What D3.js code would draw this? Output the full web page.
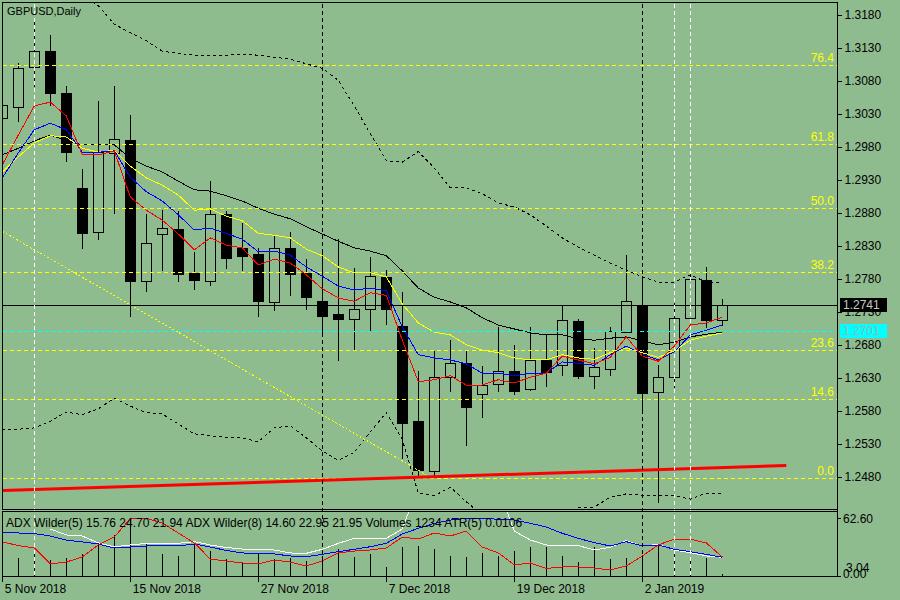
<!DOCTYPE html>
<html>
<head>
<meta charset="utf-8">
<script src="https://cdn.jsdelivr.net/npm/d3@7"></script>
<style>
  body { margin: 0; background: #8fbc8f; }
  text { font-family: "Liberation Sans", Arial, sans-serif; }
</style>
</head>
<body>
<svg id="chart"></svg>
<script>
// ---- data ----
const dates = ["2018-11-05","2018-11-06","2018-11-07","2018-11-08","2018-11-09","2018-11-12","2018-11-13","2018-11-14","2018-11-15","2018-11-16",
  "2018-11-19","2018-11-20","2018-11-21","2018-11-22","2018-11-23","2018-11-26","2018-11-27","2018-11-28","2018-11-29","2018-11-30",
  "2018-12-03","2018-12-04","2018-12-05","2018-12-06","2018-12-07","2018-12-10","2018-12-11","2018-12-12","2018-12-13","2018-12-14",
  "2018-12-17","2018-12-18","2018-12-19","2018-12-20","2018-12-21","2018-12-24","2018-12-26","2018-12-27","2018-12-28","2018-12-31",
  "2019-01-02","2019-01-03","2019-01-04","2019-01-07","2019-01-08","2019-01-09"];

const open  = [1.3024,1.3041,1.3101,1.3125,1.3061,1.2917,1.2851,1.2971,1.2990,1.2776,1.2848,1.2856,1.2789,1.2777,1.2878,1.2827,1.2818,1.2745,1.2826,1.2789,
  1.2746,1.2727,1.2719,1.2734,1.2783,1.2708,1.2564,1.2488,1.2631,1.2652,1.2605,1.2620,1.2640,1.2613,1.2657,1.2649,1.2716,1.2633,1.2644,1.2699,
  1.2739,1.2608,1.2631,1.2721,1.2778,1.2718];
const high  = [1.3051,1.3107,1.3175,1.3150,1.3072,1.2946,1.3049,1.3072,1.3029,1.2878,1.2884,1.2883,1.2821,1.2928,1.2883,1.2865,1.2826,1.2846,1.2851,1.2810,
  1.2825,1.2840,1.2797,1.2813,1.2794,1.2760,1.2640,1.2671,1.2687,1.2670,1.2648,1.2707,1.2680,1.2707,1.2697,1.2739,1.2719,1.2675,1.2707,1.2816,
  1.2783,1.2649,1.2744,1.2787,1.2798,1.2749];
const low   = [1.3019,1.3020,1.3072,1.3044,1.2958,1.2826,1.2840,1.2880,1.2724,1.2762,1.2793,1.2776,1.2764,1.2770,1.2797,1.2794,1.2724,1.2733,1.2755,1.2735,
  1.2700,1.2657,1.2672,1.2701,1.2711,1.2508,1.2480,1.2481,1.2610,1.2528,1.2571,1.2610,1.2606,1.2611,1.2618,1.2634,1.2630,1.2615,1.2634,1.2699,
  1.2577,1.2441,1.2616,1.2721,1.2707,1.2710];
const close = [1.3044,1.3099,1.3126,1.3062,1.2973,1.2850,1.2973,1.2992,1.2776,1.2835,1.2857,1.2788,1.2778,1.2879,1.2812,1.2815,1.2747,1.2826,1.2788,1.2753,
  1.2724,1.2719,1.2735,1.2785,1.2734,1.2562,1.2490,1.2631,1.2653,1.2585,1.2619,1.2640,1.2610,1.2657,1.2638,1.2718,1.2633,1.2646,1.2701,1.2746,
  1.2607,1.2631,1.2720,1.2779,1.2718,1.2741];

// moving averages
const maRed    = [1.2953,1.2998,1.3042,1.3048,1.3027,1.2968,1.2968,1.2974,1.2904,1.2884,1.2869,1.2848,1.2824,1.2842,1.2831,1.2827,1.2801,1.2810,1.2804,1.2786,
  1.2765,1.2751,1.2746,1.2759,1.2755,1.2687,1.2624,1.2627,1.2633,1.2619,1.2619,1.2627,1.2622,1.2631,1.2637,1.2663,1.2657,1.2651,1.2661,1.2692,
  1.2663,1.2655,1.2678,1.2710,1.2713,1.2722];
const maBlue   = [1.2933,1.2971,1.3006,1.3016,1.3006,1.2972,1.2972,1.2974,1.2934,1.2912,1.2898,1.2877,1.2854,1.2857,1.2849,1.2840,1.2821,1.2822,1.2816,1.2798,
  1.2784,1.2769,1.2763,1.2766,1.2762,1.2707,1.2665,1.2660,1.2657,1.2651,1.2637,1.2637,1.2633,1.2637,1.2637,1.2654,1.2652,1.2649,1.2665,1.2678,
  1.2666,1.2657,1.2669,1.2695,1.2702,1.2710];
const maYellow = [1.2942,1.2965,1.2986,1.2997,1.2995,1.2978,1.2972,1.2975,1.2951,1.2933,1.2922,1.2907,1.2884,1.2886,1.2875,1.2868,1.2849,1.2846,1.2842,1.2825,
  1.2815,1.2798,1.2789,1.2789,1.2783,1.2742,1.2713,1.2699,1.2695,1.2680,1.2672,1.2668,1.2660,1.2657,1.2657,1.2665,1.2660,1.2658,1.2668,1.2675,
  1.2668,1.2661,1.2671,1.2687,1.2693,1.2698];
const maBlack  = [1.2968,1.2978,1.2989,1.2998,1.2990,1.2983,1.2983,1.2983,1.2963,1.2951,1.2942,1.2928,1.2915,1.2913,1.2906,1.2898,1.2887,1.2878,1.2871,1.2859,
  1.2848,1.2837,1.2827,1.2822,1.2815,1.2792,1.2766,1.2752,1.2745,1.2736,1.2721,1.2710,1.2704,1.2698,1.2695,1.2695,1.2689,1.2687,1.2690,1.2692,
  1.2686,1.2680,1.2684,1.2692,1.2696,1.2699];
const bandUpper = [1.3248,1.3241,1.3233,1.3226,1.3218,1.3210,1.3194,1.3166,1.3153,1.3141,1.3125,1.3122,1.3119,1.3119,1.3119,1.3121,1.3119,1.3116,1.3113,1.3106,
  1.3099,1.3081,1.3042,1.3000,1.2959,1.2957,1.2973,1.2948,1.2918,1.2918,1.2909,1.2895,1.2889,1.2877,1.2860,1.2842,1.2828,1.2816,1.2804,1.2793,
  1.2783,1.2775,1.2775,1.2786,1.2775,1.2775];
const bandLower = [1.2552,1.2552,1.2554,1.2564,1.2578,1.2574,1.2583,1.2599,1.2587,1.2577,1.2575,1.2560,1.2545,1.2542,1.2540,1.2539,1.2533,1.2554,1.2557,1.2539,
  1.2519,1.2505,1.2517,1.2548,1.2577,1.2536,1.2455,1.2451,1.2464,1.2442,1.2422,1.2407,1.2399,1.2399,1.2407,1.2417,1.2433,1.2434,1.2449,1.2454,
  1.2452,1.2452,1.2451,1.2446,1.2455,1.2454];

// indicator window
const volumes = [12050,10830,15620,9610,10790,13240,19180,24630,34820,19750,13220,12010,19830,14970,10240,8410,13180,10230,10760,9040,
  12020,16190,11420,13210,5380,17430,18040,16170,12030,11380,13820,12060,15010,17380,17420,12040,8380,17360,10220,10790,
  12010,18610,13780,9040,10810,1234];
const adxWhite = [null,null,null,50.9,44.4,43.3,35.7,31.6,33.5,35.3,35.3,35.3,37.1,33.5,30.8,29.1,28.8,28.0,24.8,24.4,
  28.8,35.3,40.8,40.8,40.8,50.9,98.0,99.0,99.0,98.0,97.0,96.0,48.7,38.9,33.5,32.9,32.9,28.0,31.0,38.2,
  32.4,34.2,28.0,25.1,21.5,20.1];
const adxBlue  = [46.6,46.6,46.0,43.3,38.9,36.8,34.6,30.2,31.3,32.4,32.4,32.4,34.6,31.3,27.5,24.8,24.4,23.7,21.5,20.7,
  23.3,26.2,28.8,31.6,35.3,45.5,51.7,57.1,60.7,62.4,62.6,61.5,60.7,57.1,53.1,46.2,40.8,36.0,32.4,37.1,
  32.4,33.5,28.8,26.2,23.3,20.1];
const adxRed   = [36.8,32.9,30.2,12.8,14.9,20.4,33.5,42.2,62.2,62.6,57.5,46.6,35.7,18.2,16.0,13.9,12.8,17.1,14.9,10.6,
  16.0,24.8,26.9,28.0,30.2,42.2,40.0,46.6,43.3,48.7,31.3,24.8,11.7,13.9,7.9,9.5,9.5,8.4,6.2,10.6,
  21.5,33.5,40.0,40.0,35.7,20.4];

// chart objects
const fibLevels = [0, 14.6, 23.6, 38.2, 50.0, 61.8, 76.4];
const fibLow = 1.24785, fibHigh = 1.32965;
const yellowTrend = [[0, 1.2852], [26.5, 1.2483]];
const redTrend = [[0, 1.2459], [49, 1.2497]];
const markedDates = ["2018-11-07", "2019-01-04", "2019-01-07"];
const bidPrice = 1.2741;
const levelPrice = 1.2701;

const priceTicks = [1.3180,1.3130,1.3080,1.3030,1.2980,1.2930,1.2880,1.2830,1.2780,1.2730,1.2680,1.2630,1.2580,1.2530,1.2480];
const dateTicks = ["2018-11-05","2018-11-15","2018-11-27","2018-12-07","2018-12-19","2019-01-02"];
const indTicks = [62.60, 3.04, 0.00];
const titleText = "GBPUSD,Daily";
const indText = "ADX Wilder(5) 15.76 24.70 21.94 ADX Wilder(8) 14.60 22.95 21.95 Volumes 1234 ATR(5) 0.0106";

// ---- layout ----
const W = 900, H = 600;
const BG = "#8fbc8f";
const L = 3, R = 837, mainTop = 3, mainBottom = 509, indTop = 511, indBottom = 576;

const svg = d3.select("#chart").attr("width", W).attr("height", H);
svg.append("rect").attr("width", W).attr("height", H).attr("fill", BG);

const x = d3.scaleLinear().domain([0, 52]).range([2.3, 834.3]);
const y = d3.scaleLinear().domain([1.2480, 1.3180]).range([476.7, 15]);
const yi = d3.scaleLinear().domain([0, 62.6]).range([575.7, 518.3]);
const yv = d3.scaleLinear().domain([0, 36000]).range([576, 516]);
const parse = d3.timeParse("%Y-%m-%d");
const fmtDate = d3.timeFormat("%-d %b %Y");
const px = v => Math.round(v) + 0.5;

const defs = svg.append("defs");
defs.append("clipPath").attr("id", "clipMain").append("rect")
  .attr("x", L).attr("y", mainTop).attr("width", R - L).attr("height", mainBottom - mainTop);
defs.append("clipPath").attr("id", "clipInd").append("rect")
  .attr("x", L).attr("y", indTop + 1).attr("width", R - L).attr("height", indBottom - indTop - 1);

const main = svg.append("g").attr("clip-path", "url(#clipMain)");

// candles
const bars = d3.range(dates.length);
main.selectAll("line.wick").data(bars).enter().append("line")
  .attr("x1", i => px(x(i))).attr("x2", i => px(x(i)))
  .attr("y1", i => Math.round(y(high[i]))).attr("y2", i => Math.round(y(low[i])) + 1)
  .attr("stroke", "#000").attr("shape-rendering", "crispEdges");

main.selectAll("rect.bear").data(bars.filter(i => close[i] < open[i])).enter().append("rect")
  .attr("x", i => Math.round(x(i)) - 5)
  .attr("y", i => Math.round(y(open[i])))
  .attr("width", 11)
  .attr("height", i => Math.max(1, Math.round(y(close[i])) - Math.round(y(open[i])) + 1))
  .attr("fill", "#000").attr("shape-rendering", "crispEdges");

main.selectAll("rect.bull").data(bars.filter(i => close[i] >= open[i])).enter().append("rect")
  .attr("x", i => Math.round(x(i)) - 4.5)
  .attr("y", i => Math.round(y(close[i])) + 0.5)
  .attr("width", 10)
  .attr("height", i => Math.max(1, Math.round(y(open[i])) - Math.round(y(close[i]))))
  .attr("fill", BG).attr("stroke", "#000").attr("shape-rendering", "crispEdges");

// bands and averages
const priceLine = d3.line().x((d, i) => x(i)).y(d => y(d));
[[bandUpper, "3,3"], [bandLower, "3,3"]].forEach(([arr, dash]) => {
  main.append("path").attr("d", priceLine(arr)).attr("fill", "none")
    .attr("stroke", "#000").attr("stroke-dasharray", dash).attr("shape-rendering", "crispEdges");
});
[[maBlack, "#000"], [maYellow, "#ffff00"], [maBlue, "#0000ff"], [maRed, "#ff0000"]].forEach(([arr, col]) => {
  main.append("path").attr("d", priceLine(arr)).attr("fill", "none")
    .attr("stroke", col).attr("stroke-width", 1).attr("shape-rendering", "crispEdges");
});

// fibonacci levels
fibLevels.forEach(lv => {
  const yy = px(y(fibLow + (fibHigh - fibLow) * lv / 100));
  main.append("line").attr("x1", L).attr("x2", R).attr("y1", yy).attr("y2", yy)
    .attr("stroke", "#ffff00").attr("stroke-dasharray", "4,3").attr("shape-rendering", "crispEdges");
  main.append("text").attr("x", 834).attr("y", yy - 3.5).attr("text-anchor", "end")
    .attr("font-size", 12).attr("fill", "#ffff00").text(d3.format(".1f")(lv));
});

// trend lines
const trendLine = d3.line().x(d => x(d[0])).y(d => y(d[1]));
main.append("path").attr("d", trendLine(yellowTrend)).attr("fill", "none")
  .attr("stroke", "#ffff00").attr("stroke-dasharray", "2,2").attr("shape-rendering", "crispEdges");
main.append("path").attr("d", trendLine(redTrend)).attr("fill", "none")
  .attr("stroke", "#ff0000").attr("stroke-width", 3);

// bid and level lines
main.append("line").attr("x1", L).attr("x2", R).attr("y1", px(y(bidPrice))).attr("y2", px(y(bidPrice)))
  .attr("stroke", "#000").attr("shape-rendering", "crispEdges");
main.append("line").attr("x1", L).attr("x2", R).attr("y1", px(y(levelPrice))).attr("y2", px(y(levelPrice)))
  .attr("stroke", "#00ffff").attr("stroke-dasharray", "4,3").attr("shape-rendering", "crispEdges");

// indicator window
const ind = svg.append("g").attr("clip-path", "url(#clipInd)");
ind.selectAll("line.vol").data(bars).enter().append("line")
  .attr("x1", i => px(x(i))).attr("x2", i => px(x(i)))
  .attr("y1", yv(0)).attr("y2", i => Math.round(yv(volumes[i])))
  .attr("stroke", "#000").attr("shape-rendering", "crispEdges");
const indLine = d3.line().defined(d => d !== null).x((d, i) => x(i)).y(d => yi(d));
[[adxWhite, "#ffffff"], [adxBlue, "#0000ff"], [adxRed, "#ff0000"]].forEach(([arr, col]) => {
  ind.append("path").attr("d", indLine(arr)).attr("fill", "none")
    .attr("stroke", col).attr("shape-rendering", "crispEdges");
});

// period separators (first bar of a month) and marked days
const sepIdx = bars.filter(i => i > 0 && parse(dates[i]).getMonth() !== parse(dates[i - 1]).getMonth());
const markIdx = markedDates.map(d => dates.indexOf(d));
[[sepIdx, "#000"], [markIdx, "#ffffff"]].forEach(([idx, col]) => {
  svg.selectAll(null).data(idx).enter().append("line")
    .attr("x1", i => px(x(i))).attr("x2", i => px(x(i)))
    .attr("y1", mainTop + 1).attr("y2", indBottom)
    .attr("stroke", col).attr("stroke-dasharray", "4,3").attr("shape-rendering", "crispEdges");
});

// frames
svg.append("rect").attr("x", L - 0.5).attr("y", mainTop - 0.5).attr("width", R - L + 1).attr("height", mainBottom - mainTop + 1)
  .attr("fill", "none").attr("stroke", "#000").attr("shape-rendering", "crispEdges");
svg.append("rect").attr("x", L - 0.5).attr("y", indTop + 0.5).attr("width", R - L + 1).attr("height", indBottom - indTop)
  .attr("fill", "none").attr("stroke", "#000").attr("shape-rendering", "crispEdges");

// price axis
const yAxis = d3.axisRight(y).tickValues(priceTicks).tickFormat(d3.format(".4f")).tickSize(4).tickPadding(3);
const ya = svg.append("g").attr("transform", `translate(${R + 0.5},0)`).call(yAxis);
ya.select(".domain").remove();
ya.selectAll("line").attr("stroke", "#000").attr("shape-rendering", "crispEdges");
ya.selectAll("text").attr("font-size", 12).attr("fill", "#000")
  .attr("font-family", "'Liberation Sans', Arial, sans-serif");

// indicator axis
const ia = svg.append("g");
ia.selectAll("line").data([indTicks[0], indTicks[2]]).enter().append("line")
  .attr("x1", R).attr("x2", R + 4).attr("y1", d => px(yi(d))).attr("y2", d => px(yi(d)))
  .attr("stroke", "#000").attr("shape-rendering", "crispEdges");
ia.selectAll("text").data(indTicks).enter().append("text")
  .attr("x", (d, i) => i === 1 ? 846 : 843)
  .attr("y", (d, i) => [518.5, 568, 573.5][i]).attr("dy", "0.35em")
  .attr("font-size", 12).attr("fill", "#000").text(d => d3.format(".2f")(d));

// right axis line
svg.append("line").attr("x1", R + 0.5).attr("x2", R + 0.5).attr("y1", mainTop - 0.5).attr("y2", indBottom + 0.5)
  .attr("stroke", "#000").attr("shape-rendering", "crispEdges");

// price labels
[[bidPrice, "#000", "#c4ccc4"], [levelPrice, "#00ffff", "#8fb8b0"]].forEach(([p, fill, col]) => {
  const yy = Math.round(y(p));
  svg.append("rect").attr("x", 840).attr("y", yy - 7).attr("width", 47).attr("height", 14).attr("fill", fill);
  svg.append("text").attr("x", 843).attr("y", yy).attr("dy", "0.36em").attr("font-size", 12)
    .attr("fill", col).text(d3.format(".4f")(p));
});

// date axis
const tickIdx = dateTicks.map(d => dates.indexOf(d));
const xAxis = d3.axisBottom(x).tickValues(tickIdx).tickFormat(i => fmtDate(parse(dates[i]))).tickSize(5).tickPadding(3);
const xa = svg.append("g").attr("transform", `translate(0,${indBottom + 0.5})`).call(xAxis);
xa.select(".domain").remove();
xa.selectAll("line").attr("stroke", "#000").attr("shape-rendering", "crispEdges")
  .attr("transform", "translate(-0.3,0)");
xa.selectAll("text").attr("text-anchor", "start").attr("dx", 2).attr("font-size", 12).attr("fill", "#000")
  .attr("font-family", "'Liberation Sans', Arial, sans-serif");

// titles
svg.append("text").attr("x", 7).attr("y", 15).attr("font-size", 11).attr("fill", "#000").text(titleText);
svg.append("text").attr("x", 6).attr("y", 527).attr("font-size", 12).attr("fill", "#000").text(indText);
</script>
</body>
</html>
